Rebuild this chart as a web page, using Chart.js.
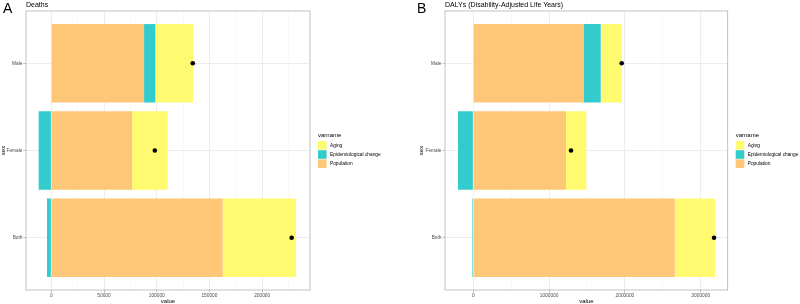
<!DOCTYPE html>
<html>
<head>
<meta charset="utf-8">
<script src="https://cdn.jsdelivr.net/npm/chart.js@4/dist/chart.umd.min.js"></script>
<style>
  html, body { margin: 0; padding: 0; background: #fff; overflow: hidden; }
  #wrap { position: relative; width: 800px; height: 304px; }
  canvas { position: absolute; top: 0; }
  .tag, .ttl { position: absolute; font-family: "Liberation Sans", Arial, sans-serif; color: #000; line-height: 1; white-space: nowrap; }
  .tag { font-size: 14px; top: 1px; }
  .ttl { font-size: 7px; top: 1px; }
</style>
</head>
<body>
<div id="wrap">
  <canvas id="deaths" width="400" height="304" style="left:0"></canvas>
  <canvas id="dalys" width="400" height="304" style="left:400px"></canvas>
  <div class="tag" style="left:3px">A</div>
  <div class="tag" style="left:417px">B</div>
  <div class="ttl" style="left:26px">Deaths</div>
  <div class="ttl" style="left:445px">DALYs (Disability-Adjusted Life Years)</div>
</div>
<script>
// categories, bottom to top
const sexes = [ 'Both', 'Female', 'Male' ];

// Deaths decomposition
const deathsPopulation = [ 162600, 76600, 88000 ];
const deathsEpi = [ -4100, -12000, 10700 ];
const deathsAging = [ 69600, 33800, 35700 ];
const deathsTotal = [ 228000, 98200, 134200 ];
const deathsTicks = [ 0, 50000, 100000, 150000, 200000 ];

// DALYs decomposition
const dalysPopulation = [ 2657000, 1223000, 1460000 ];
const dalysEpi = [ -13000, -202000, 221000 ];
const dalysAging = [ 532000, 268000, 277000 ];
const dalysTotal = [ 3176000, 1289000, 1958000 ];
const dalysTicks = [ 0, 1000000, 2000000, 3000000 ];

const FONT = '"Liberation Sans", Arial, sans-serif';
const colPopulation = '#FEC677';
const colEpi = '#33CCCC';
const colAging = '#FFFA70';

const legendItems = [
	{ label: 'Aging', color: colAging },
	{ label: 'Epidemiological change', color: colEpi },
	{ label: 'Population', color: colPopulation }
];

// panel border + legend
const decor = {
	id: 'decor',
	afterDraw( chart ) {
		const ctx = chart.ctx, a = chart.chartArea;
		ctx.save();
		ctx.strokeStyle = '#b3b3b3';
		ctx.lineWidth = 0.8;
		ctx.strokeRect( a.left, a.top, a.right - a.left, a.bottom - a.top );

		const x0 = a.right + 8;
		ctx.fillStyle = '#000';
		ctx.font = '6px ' + FONT;
		ctx.textBaseline = 'middle';
		ctx.fillText( 'varname', x0, 135 );
		ctx.font = '4.8px ' + FONT;
		legendItems.forEach( function ( item, i ) {
			const y = 141 + i * 9.2;
			ctx.fillStyle = item.color;
			ctx.fillRect( x0, y, 8.6, 8.6 );
			ctx.fillStyle = '#000';
			ctx.fillText( item.label, x0 + 12, y + 4.4 );
		} );
		ctx.restore();
	}
};

function makePanel( id, pop, epi, aging, total, majors, xMin, xMax, lay ) {
	const step = majors[ 1 ] - majors[ 0 ];
	let xTicks = [];
	for ( let v = majors[ 0 ] - step / 2; v <= xMax; v += step / 2 ) {
		if ( v >= xMin ) xTicks.push( v );
	}
	const toPts = function ( arr ) {
		return arr.map( function ( v, i ) { return { x: v, y: i + 1 }; } );
	};

	new Chart( document.getElementById( id ), {
		type: 'bar',
		data: {
			datasets: [
				{ type: 'scatter', data: toPts( total ), stack: 'pt', order: -1,
					backgroundColor: '#000', borderColor: '#000', pointRadius: 2.3, pointBorderWidth: 0 },
				{ label: 'Population', data: toPts( pop ), stack: 'dec', backgroundColor: colPopulation },
				{ label: 'Epidemiological change', data: toPts( epi ), stack: 'dec', backgroundColor: colEpi },
				{ label: 'Aging', data: toPts( aging ), stack: 'dec', backgroundColor: colAging }
			]
		},
		options: {
			indexAxis: 'y',
			responsive: false,
			animation: false,
			devicePixelRatio: 1,
			categoryPercentage: 0.9,
			barPercentage: 1,
			layout: { padding: { left: lay.left, right: lay.right, top: 11, bottom: 0 } },
			plugins: { legend: { display: false }, tooltip: { enabled: false } },
			scales: {
				x: {
					type: 'linear', stacked: true, min: xMin, max: xMax, offset: false,
					afterBuildTicks: function ( s ) {
						s.ticks = xTicks.map( function ( v ) { return { value: v, minor: majors.indexOf( v ) < 0 }; } );
					},
					afterFit: function ( s ) { s.height = 14; },
					ticks: {
						autoSkip: false, maxRotation: 0, padding: 0.5, color: '#4d4d4d',
						font: { size: 4.8, family: FONT },
						callback: function ( v ) { return majors.indexOf( v ) < 0 ? '' : String( v ); }
					},
					grid: {
						offset: false,
						color: function ( c ) { return c.tick && c.tick.minor ? '#f2f2f2' : '#e8e8e8'; },
						lineWidth: function ( c ) { return c.tick && c.tick.minor ? 0.5 : 0.8; },
						tickColor: function ( c ) { return c.tick && c.tick.minor ? 'rgba(0,0,0,0)' : '#b3b3b3'; },
						tickLength: 2.5
					},
					border: { display: false },
					title: { display: true, text: 'value', color: '#000', padding: 0,
						font: { size: 6, family: FONT, lineHeight: 1 } }
				},
				y: {
					type: 'linear', stacked: true, min: 0.4, max: 3.6, offset: false,
					afterBuildTicks: function ( s ) {
						s.ticks = sexes.map( function ( c, i ) { return { value: i + 1 }; } );
					},
					afterFit: function ( s ) { s.width = lay.yWidth; },
					ticks: {
						autoSkip: false, padding: 1, color: '#4d4d4d',
						font: { size: 4.8, family: FONT },
						callback: function ( v ) { return sexes[ v - 1 ] || ''; }
					},
					grid: { offset: false, color: '#e8e8e8', lineWidth: 0.8, tickColor: '#b3b3b3', tickLength: 2.5 },
					border: { display: false },
					title: { display: true, text: 'sex', color: '#000', padding: 0,
						font: { size: 6, family: FONT, lineHeight: 1 } }
				}
			}
		},
		plugins: [ decor ]
	} );
}

makePanel( 'deaths', deathsPopulation, deathsEpi, deathsAging, deathsTotal, deathsTicks,
	-24000, 245400, { left: 0, right: 90, yWidth: 26 } );
makePanel( 'dalys', dalysPopulation, dalysEpi, dalysAging, dalysTotal, dalysTicks,
	-373000, 3356000, { left: 18, right: 72.3, yWidth: 27 } );
</script>
</body>
</html>
